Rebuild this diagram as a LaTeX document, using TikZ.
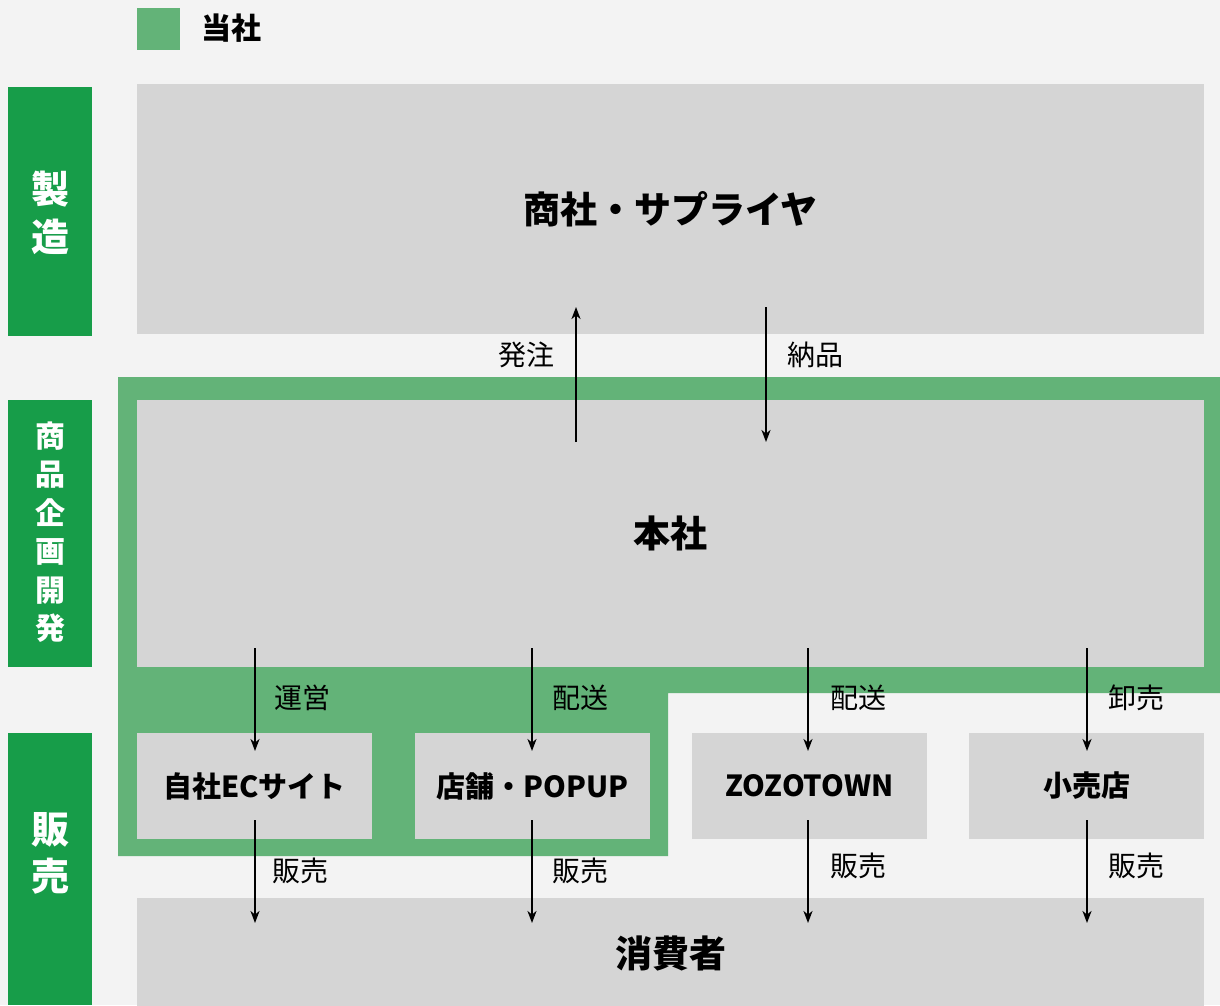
\documentclass[tikz,border=0pt]{standalone}
\usepackage{fontspec}
\setmainfont{Noto Sans CJK JP}
\usetikzlibrary{arrows.meta}
\definecolor{bgc}{HTML}{F3F3F3}
\definecolor{boxc}{HTML}{D5D5D5}
\definecolor{lgreen}{HTML}{63B378}
\definecolor{dgreen}{HTML}{179D49}
\tikzset{
  box/.style={fill=boxc, draw=none, inner sep=0pt, font=\bfseries\fontsize{29}{34}\selectfont},
  bigbox/.style={box, font=\bfseries\fontsize{37}{44}\selectfont},
  sidebar/.style={fill=dgreen, draw=none, inner sep=0pt, minimum width=84, text=white, align=center},
  flow/.style={line width=1.8pt, -{Stealth[length=12pt,width=9pt,inset=3.5pt]}},
  lbl/.style={font=\fontsize{28}{33}\selectfont, inner sep=0pt}
}
\begin{document}
\begin{tikzpicture}[x=1pt,y=-1pt]
\fill[bgc] (0,0) rectangle (1220,1005);
\useasboundingbox (0,0) rectangle (1220,1005);
% legend
\node[fill=lgreen, minimum width=43, minimum height=42, inner sep=0pt] (leg) at (158.5,29) {};
\node[anchor=west, inner sep=0pt, font=\bfseries\fontsize{30}{36}\selectfont] (legt) at (201,28) {当社};
% side bars
\node[sidebar, minimum height=249] (s1) at (50,211.5) {};
\node[text=white, align=center, font=\bfseries\fontsize{38}{48}\selectfont] (s1t) at (50,213) {製\\造};
\node[sidebar, minimum height=267] (s2) at (50,533.5) {};
\node[text=white, align=center, font=\bfseries\fontsize{30}{38.5}\selectfont] (s2t) at (50,532) {商\\品\\企\\画\\開\\発};
\node[sidebar, minimum height=272] (s3) at (50,869) {};
\node[text=white, align=center, font=\bfseries\fontsize{38}{47}\selectfont] (s3t) at (50,853) {販\\売};
% green company region
\fill[lgreen] (118,377) -- (1220,377) -- (1220,693) -- (668,693) -- (668,856) -- (118,856) -- cycle;
% boxes
\node[bigbox, minimum width=1067, minimum height=250] (sup) at (670.5,209) {商社・サプライヤ};
\node[bigbox, minimum width=1067, minimum height=267] (hq) at (670.5,533.5) {本社};
\node[box, minimum width=235, minimum height=106] (ec) at (254.5,786) {自社ECサイト};
\node[box, minimum width=235, minimum height=106] (shop) at (532.5,786) {店舗・POPUP};
\node[box, minimum width=235, minimum height=106] (zozo) at (809.5,786) {ZOZOTOWN};
\node[box, minimum width=235, minimum height=106] (retail) at (1086.5,786) {小売店};
\node[bigbox, minimum width=1067, minimum height=110] (cons) at (670.5,953) {消費者};
% arrow end points
\coordinate (ord1) at (576,442); \coordinate (ord2) at (576,307);
\coordinate (del1) at (766,307); \coordinate (del2) at (766,442);
\foreach \n/\x in {pa/255,pb/532,pc/808,pd/1087}{
  \coordinate (\n1) at (\x,648); \coordinate (\n2) at (\x,751);
  \coordinate (\n3) at (\x,820); \coordinate (\n4) at (\x,923);
}
% arrows
\draw[flow] (ord1) -- (ord2);
\draw[flow] (del1) -- (del2);
\draw[flow] (pa1) -- (pa2);
\draw[flow] (pb1) -- (pb2);
\draw[flow] (pc1) -- (pc2);
\draw[flow] (pd1) -- (pd2);
\draw[flow] (pa3) -- (pa4);
\draw[flow] (pb3) -- (pb4);
\draw[flow] (pc3) -- (pc4);
\draw[flow] (pd3) -- (pd4);
% labels
\node[lbl] (l1) at (526,355) {発注};
\node[lbl] (l2) at (815,355) {納品};
\node[lbl] (l3) at (302,698) {運営};
\node[lbl] (l4) at (580,698) {配送};
\node[lbl] (l5) at (858,698) {配送};
\node[lbl] (l6) at (1136,698) {卸売};
\node[lbl] (l7) at (300,871) {販売};
\node[lbl] (l8) at (580,871) {販売};
\node[lbl] (l9) at (858,866) {販売};
\node[lbl] (l10) at (1136,866) {販売};
\end{tikzpicture}
\end{document}
